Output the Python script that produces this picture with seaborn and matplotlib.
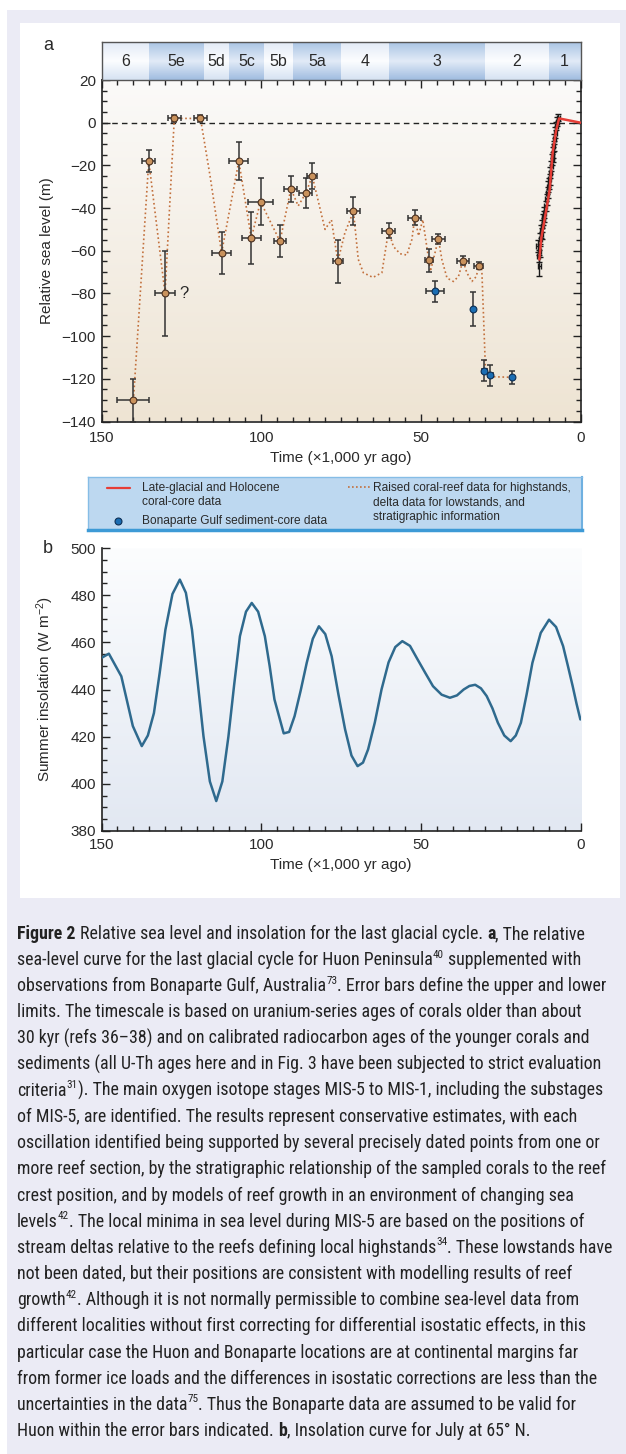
import re
import numpy as np
import matplotlib
matplotlib.use("Agg")
import matplotlib.pyplot as plt
import seaborn as sns
from matplotlib.colors import LinearSegmentedColormap
from matplotlib.patches import Rectangle
from matplotlib.lines import Line2D
from matplotlib.ticker import MultipleLocator
from matplotlib import font_manager as fm

# ---------------- data ----------------
# Huon Peninsula raised coral-reef points (kyr ago, m)
t_reef = [140, 135.2, 130.1, 127.2, 119, 112.4, 107, 103.1, 100.2, 94.1, 90.7, 86, 84, 76,
          71.1, 60.1, 51.9, 47.5, 44.5, 36.8, 31.9]
sl_reef = [-130, -18, -80, 2, 2, -61, -18, -54, -37, -55.6, -31, -33, -25, -65,
           -41.5, -50.6, -44.5, -64.5, -54.5, -64.6, -67]
reef_yerr = [10, 5, 20, 1.5, 1.5, 10, 9, 12, 11, 7.5, 6, 7, 6, 10,
             6.5, 3.5, 3.5, 5.5, 2.5, 2, 1.5]
reef_xerr = [5, 2, 3, 2, 2, 3, 3, 3, 4, 2, 2, 2, 1.5, 1.5,
             2, 2, 2, 1.2, 2, 2, 1.5]

# Bonaparte Gulf sediment-core points
t_bon = [45.5, 33.6, 30.1, 28.3, 21.4]
sl_bon = [-79, -87.3, -116.2, -118.4, -119.3]
bon_yerr = [5, 8, 5, 5, 3]
bon_xerr = [2.9, 0, 0.8, 0.8, 0]

# dotted sea-level curve (reef highstands, delta lowstands)
t_curve = [140, 135.2, 130.1, 127.2, 119, 116, 112.4, 107, 103.1, 100.2, 94.1, 90.7, 88.4, 86, 84,
           80, 78, 76, 73.8, 71.1, 69.6, 68, 65, 62.2, 60.9, 60.1, 58.6, 56.5, 54.4, 52.8, 51.9,
           50.7, 49.4, 47.5, 47, 44.5, 43.4, 41.8, 39.8, 38.2, 36.8, 35.6, 34, 32.6, 31.9, 30.9,
           29.8, 28.2, 21.4]
sl_curve = [-130, -18, -80, 2, 2, -25, -61, -18, -54, -37, -55.6, -31, -39, -33, -25,
            -50, -45.5, -65, -51.7, -41.5, -64, -70.3, -72.5, -70.3, -58, -50.6, -58, -61.4, -62, -54.7, -44.5,
            -53, -45.4, -64.5, -69.7, -54.5, -64.2, -72.8, -74.4, -72, -64.6, -70.3, -74.4, -72, -67, -69,
            -114, -119, -119.3]

# late-glacial and Holocene coral-core curve
t_holo = [12.9, 12.25, 10.5, 9.65, 9.1, 8.7, 7.65, 6.7, 0]
sl_holo = [-64.1, -53.9, -39, -31.2, -21, -14, -3.8, 2, 0]

# coral-core samples with error bars
t_core = [13.4, 13.1, 12.9, 12.75, 12.6, 12.35, 12.15, 12.0, 11.7, 11.5, 11.3, 10.9, 10.6, 10.3, 10.05,
          9.85, 9.7, 9.4, 9.2, 8.9, 8.75, 8.6, 8.4, 8.2, 7.9, 7.55, 7.3, 7.0]
sl_core = [-57.8, -62.5, -67, -60, -54.7, -50.8, -52, -48.4, -45.3, -44, -42.1, -39, -35.9, -32.8, -30,
           -28.5, -26.5, -23.4, -20.3, -17.1, -16, -14, -10.9, -7.7, -4.6, -1.5, 0.5, 2.4]
core_yerr = [3, 3, 5, 3, 3, 3, 2.5, 3, 2.5, 2.5, 2.5, 2.5, 2.5, 2.5, 2.5,
             2.5, 2.5, 2.5, 2.5, 2.5, 2.5, 2.5, 2.5, 2.5, 2.5, 2, 2, 1.5]

# marine isotope stages
stage_edges = [150, 135, 118, 110, 99, 90, 75, 60, 30, 10, 0]
stage_names = ["6", "5e", "5d", "5c", "5b", "5a", "4", "3", "2", "1"]
stage_blue = [False, True, False, True, False, True, False, True, False, True]

# July insolation at 65 N (W m-2)
t_ins = [150, 147.7, 143.8, 140.2, 137.4, 135.5, 133.6, 131.8, 130, 127.8, 125.5, 123.6, 121.7, 119.9,
         118.1, 116.1, 114.1, 112.2, 110.3, 108.5, 106.7, 104.8, 103, 101, 98.9, 97.4, 95.9, 93, 91.3,
         89.6, 87.7, 85.8, 83.9, 82, 80, 78, 75.9, 73.8, 71.8, 69.9, 68.2, 66.6, 64.5, 62.4, 60.2,
         58.1, 55.9, 53.5, 51.1, 48.7, 46.3, 43.6, 41, 38.8, 36.7, 34.9, 33.1, 31.3, 29.5, 27.7, 26,
         24, 22, 20.4, 18.8, 17, 15.2, 12.6, 10, 7.8, 5.6, 4.1, 2.6, 1.4, 0.2]
ins = [453.4, 455.2, 445.6, 424.5, 416, 420.5, 430, 447, 465.4, 480.5, 486.6, 481, 465.4, 443,
       420.2, 401, 392.7, 401, 420, 442, 462.6, 473, 476.7, 473, 462.6, 450, 435.8, 421.4, 422,
       428.7, 439.5, 451.3, 461.5, 466.8, 463.5, 454.1, 438, 423.1, 412, 407.5, 409, 414.6, 426, 440, 451.5,
       458, 460.5, 458.5, 452.7, 447, 441.4, 437.8, 436.5, 437.5, 440, 441.5, 442, 440.5, 437.2, 432, 425.9,
       420.5, 418.1, 420.5, 425.9, 438, 451.3, 464, 469.6, 466.5, 458.4, 450, 441.4, 434, 427.3]

caption_lines = [
    "**Figure 2** Relative sea level and insolation for the last glacial cycle. **a**, The relative",
    "sea-level curve for the last glacial cycle for Huon Peninsula^{40} supplemented with",
    "observations from Bonaparte Gulf, Australia^{73}. Error bars define the upper and lower",
    "limits. The timescale is based on uranium-series ages of corals older than about",
    "30 kyr (refs 36\u201338) and on calibrated radiocarbon ages of the younger corals and",
    "sediments (all U-Th ages here and in Fig. 3 have been subjected to strict evaluation",
    "criteria^{31}). The main oxygen isotope stages MIS-5 to MIS-1, including the substages",
    "of MIS-5, are identified. The results represent conservative estimates, with each",
    "oscillation identified being supported by several precisely dated points from one or",
    "more reef section, by the stratigraphic relationship of the sampled corals to the reef",
    "crest position, and by models of reef growth in an environment of changing sea",
    "levels^{42}. The local minima in sea level during MIS-5 are based on the positions of",
    "stream deltas relative to the reefs defining local highstands^{34}. These lowstands have",
    "not been dated, but their positions are consistent with modelling results of reef",
    "growth^{42}. Although it is not normally permissible to combine sea-level data from",
    "different localities without first correcting for differential isostatic effects, in this",
    "particular case the Huon and Bonaparte locations are at continental margins far",
    "from former ice loads and the differences in isostatic corrections are less than the",
    "uncertainties in the data^{75}. Thus the Bonaparte data are assumed to be valid for",
    "Huon within the error bars indicated. **b**, Insolation curve for July at 65\u00b0 N.",
]

# ---------------- style ----------------
sns.set_style("ticks")
plt.rcParams["font.family"] = ["Liberation Sans", "DejaVu Sans"]
plt.rcParams["mathtext.fontset"] = "custom"
plt.rcParams["mathtext.rm"] = "Liberation Sans"
plt.rcParams["mathtext.it"] = "Liberation Sans:italic"
plt.rcParams["mathtext.bf"] = "Liberation Sans:bold"

# pick a narrow / condensed sans face for the caption if one is installed
cap_font, cap_stretch = "Liberation Sans", "normal"
_cond = {"condensed", "semi-condensed", "extra-condensed", "ultra-condensed"}
_prefs = ["Liberation Sans Narrow", "Roboto Condensed", "Open Sans Condensed", "Noto Sans",
          "Noto Sans Display", "DejaVu Sans", "Open Sans", "Roboto"]
_found = []
for f in fm.fontManager.ttflist:
    st = str(f.stretch)
    if ("Narrow" in f.name or "Condensed" in f.name or st in _cond) and "Mono" not in f.name:
        _found.append((f.name, st))
for pref in _prefs:
    hit = [x for x in _found if x[0] == pref]
    if hit:
        cap_font = pref
        cap_stretch = hit[0][1] if hit[0][1] in _cond else "normal"
        break

TXT = "#2a2a2a"
W, H = 626, 1454
fig = plt.figure(figsize=(W / 100, H / 100), dpi=100)
fig.patch.set_facecolor("white")


def rect_px(x0, y0, x1, y1):
    return [x0 / W, 1 - y1 / H, (x1 - x0) / W, (y1 - y0) / H]


fig.patches.append(Rectangle((7 / W, 0), 1 - 7 / W, 1 - 10 / H, transform=fig.transFigure,
                             facecolor="#ebebf5", edgecolor="none", zorder=-10))
fig.patches.append(Rectangle((20 / W, 1 - 898 / H), 600 / W, 875 / H, transform=fig.transFigure,
                             facecolor="white", edgecolor="none", zorder=-9))


def vgrad(ax, top, bottom, extent=(0, 1, 0, 1), transform=None, mid=None):
    cols = [top, mid, bottom] if mid else [top, bottom]
    cmap = LinearSegmentedColormap.from_list("g", cols)
    arr = np.linspace(0, 1, 256)[:, None]
    ax.imshow(arr, aspect="auto", cmap=cmap, extent=extent,
              transform=transform if transform is not None else ax.transData,
              zorder=0, interpolation="bilinear")


# ---------------- panel a ----------------
ax_a = fig.add_axes(rect_px(101.5, 80, 580.5, 421.5))
vgrad(ax_a, "#fbfaf9", "#eee4d3", transform=ax_a.transAxes)

ax_a.axhline(0, color="#222222", lw=1.0, ls=(0, (4, 3)), zorder=1)
sns.lineplot(x=t_curve, y=sl_curve, sort=False, ax=ax_a, color="#c2703c", lw=1.2,
             dashes=False, linestyle=(0, (1, 1.6)), zorder=2)
ax_a.errorbar(t_reef, sl_reef, yerr=reef_yerr, xerr=reef_xerr, fmt="none", ecolor="#333333",
              elinewidth=1.1, capsize=2.5, capthick=1.1, zorder=3)
ax_a.errorbar(t_bon, sl_bon, yerr=bon_yerr, xerr=bon_xerr, fmt="none", ecolor="#333333",
              elinewidth=1.1, capsize=2.5, capthick=1.1, zorder=3)
ax_a.errorbar(t_core, sl_core, yerr=core_yerr, xerr=0.45, fmt="none", ecolor="#1a1a1a",
              elinewidth=1.0, capsize=2.0, capthick=1.0, zorder=4)
sns.lineplot(x=t_holo, y=sl_holo, sort=False, ax=ax_a, color="#e63d36", lw=1.8, zorder=5)
sns.scatterplot(x=t_reef, y=sl_reef, ax=ax_a, color="#c9925c", edgecolor="#4a3020", s=24,
                linewidth=0.8, zorder=6)
sns.scatterplot(x=t_bon, y=sl_bon, ax=ax_a, color="#1a6db3", edgecolor="#0d2f55", s=24,
                linewidth=0.8, zorder=6)
ax_a.text(125.6, -80, "?", fontsize=12, color=TXT, va="center", ha="left", zorder=7)

ax_a.set_xlim(150, 0)
ax_a.set_ylim(-140, 20)
ax_a.set_xticks([150, 100, 50, 0])
ax_a.xaxis.set_minor_locator(MultipleLocator(5))
ax_a.set_yticks(np.arange(-140, 21, 20))
ax_a.yaxis.set_minor_locator(MultipleLocator(5))
ax_a.tick_params(which="both", direction="in", top=True, right=True, width=1, color="#222222",
                 labelsize=11, labelcolor=TXT)
ax_a.tick_params(which="major", length=6)
ax_a.tick_params(which="minor", length=3.5)
ax_a.tick_params(axis="x", pad=7)
ax_a.tick_params(axis="y", pad=4)
for s in ax_a.spines.values():
    s.set_linewidth(1.2)
    s.set_color("#222222")
ax_a.set_xlabel("Time (\u00d71,000 yr ago)", fontsize=11, color=TXT)
ax_a.set_ylabel("Relative sea level (m)", fontsize=11, color=TXT)
ax_a.xaxis.set_label_coords(0.5, -0.086)
ax_a.yaxis.set_label_coords(-0.10, 0.5)

# ---------------- stage bar ----------------
ax_s = fig.add_axes(rect_px(101.5, 42, 580.5, 80))
for i, name in enumerate(stage_names):
    t0, t1 = stage_edges[i], stage_edges[i + 1]
    if stage_blue[i]:
        vgrad(ax_s, "#a9c4e4", "#9fbce0", extent=(t0, t1, 0, 1), mid="#e2ebf7")
    else:
        vgrad(ax_s, "#e2eaf6", "#d6e2f2", extent=(t0, t1, 0, 1), mid="#fcfdff")
    ax_s.text((t0 + t1) / 2, 0.48, name, ha="center", va="center", fontsize=11.5, color=TXT, zorder=3)
ax_s.set_xlim(150, 0)
ax_s.set_ylim(0, 1)
ax_s.set_xticks([])
ax_s.set_yticks([])
for s in ax_s.spines.values():
    s.set_linewidth(1.0)
    s.set_color("#555555")

# ---------------- legend box ----------------
ax_l = fig.add_axes(rect_px(88, 477, 582, 530))
ax_l.set_facecolor("#bdd8f0")
ax_l.set_xlim(0, 1)
ax_l.set_ylim(0, 1)
ax_l.set_xticks([])
ax_l.set_yticks([])
for k, s in ax_l.spines.items():
    s.set_color("#86bde6")
    s.set_linewidth(1.0)
ax_l.spines["bottom"].set_color("#3d9ad6")
ax_l.spines["bottom"].set_linewidth(2.5)
ax_l.spines["right"].set_color("#6fb0e0")
ax_l.spines["right"].set_linewidth(1.5)
ax_l.add_line(Line2D([0.038, 0.085], [0.79, 0.79], color="#e63d36", lw=1.6))
ax_l.add_line(Line2D([0.061], [0.17], marker="o", ms=5, color="#1a6db3", mec="#0d2f55", mew=0.8))
ax_l.add_line(Line2D([0.526, 0.571], [0.81, 0.81], color="#c2703c", lw=1.2, ls=(0, (1, 1.4))))
lkw = dict(fontsize=8.6, color=TXT, ha="left", va="center", linespacing=1.25)
ax_l.text(0.109, 0.665, "Late-glacial and Holocene\ncoral-core data", **lkw)
ax_l.text(0.109, 0.17, "Bonaparte Gulf sediment-core data", **lkw)
ax_l.text(0.577, 0.52, "Raised coral-reef data for highstands,\ndelta data for lowstands, and\nstratigraphic information", **lkw)

# ---------------- panel b ----------------
ax_b = fig.add_axes(rect_px(101.5, 548, 581, 831))
vgrad(ax_b, "#fcfdfe", "#e2e8f2", transform=ax_b.transAxes)
sns.lineplot(x=t_ins, y=ins, sort=False, ax=ax_b, color="#2f6a8e", lw=1.8, zorder=3)
ax_b.set_xlim(150, 0)
ax_b.set_ylim(380, 500)
ax_b.set_xticks([150, 100, 50, 0])
ax_b.xaxis.set_minor_locator(MultipleLocator(5))
ax_b.set_yticks(np.arange(380, 501, 20))
ax_b.yaxis.set_minor_locator(MultipleLocator(5))
ax_b.tick_params(which="both", direction="in", width=1, color="#222222", labelsize=11, labelcolor=TXT)
ax_b.tick_params(which="major", length=6)
ax_b.tick_params(which="minor", length=3.5)
ax_b.tick_params(axis="x", pad=5)
ax_b.tick_params(axis="y", pad=4)
for k in ("top", "right"):
    ax_b.spines[k].set_visible(False)
for k in ("left", "bottom"):
    ax_b.spines[k].set_linewidth(1.2)
    ax_b.spines[k].set_color("#222222")
ax_b.set_xlabel("Time (\u00d71,000 yr ago)", fontsize=11, color=TXT)
ax_b.set_ylabel("Summer insolation (W m$^{-2}$)", fontsize=11, color=TXT)
ax_b.xaxis.set_label_coords(0.5, -0.095)
ax_b.yaxis.set_label_coords(-0.095, 0.5)

fig.text(48 / W, 1 - 45 / H, "a", fontsize=13, color=TXT, ha="center", va="center")
fig.text(48 / W, 1 - 548 / H, "b", fontsize=13, color=TXT, ha="center", va="center")

# ---------------- caption ----------------
fig.canvas.draw()
renderer = fig.canvas.get_renderer()
CAP = dict(family=cap_font, fontstretch=cap_stretch)


def measure(txt, **kw):
    t = fig.text(0, 0, txt, **CAP, **kw)
    w = t.get_window_extent(renderer).width
    t.remove()
    return w


def draw_line(x_px, base_px, line, size, keep=True):
    parts = [p for p in re.split(r"(\*\*.*?\*\*|\^\{.*?\})", line) if p]
    sp = measure("a a", fontsize=size) - measure("aa", fontsize=size)
    x = x_px
    made = []
    for p in parts:
        if p.startswith("**"):
            txt, kw, dy = p[2:-2], dict(fontsize=size, fontweight="bold"), 0
        elif p.startswith("^{"):
            txt, kw, dy = p[2:-1], dict(fontsize=size * 0.62), size * 0.42 * 100 / 72
        else:
            txt, kw, dy = p, dict(fontsize=size), 0
        lead = len(txt) - len(txt.lstrip(" "))
        trail = len(txt) - len(txt.rstrip(" "))
        core = txt.strip(" ")
        x += lead * sp
        if core:
            t = fig.text(x / W, 1 - (base_px - dy) / H, core, color="#222222",
                         ha="left", va="baseline", **CAP, **kw)
            x += t.get_window_extent(renderer).width
            made.append(t)
        x += trail * sp
    if not keep:
        for t in made:
            t.remove()
    return x


s0 = 12.0
widest = max(draw_line(0, 2000, ln, s0, keep=False) for ln in caption_lines)
size = min(15.0, s0 * 594.0 / widest)
for i, ln in enumerate(caption_lines):
    draw_line(17, 939 + i * 26.16, ln, size)

fig.savefig("out.png", dpi=100)
